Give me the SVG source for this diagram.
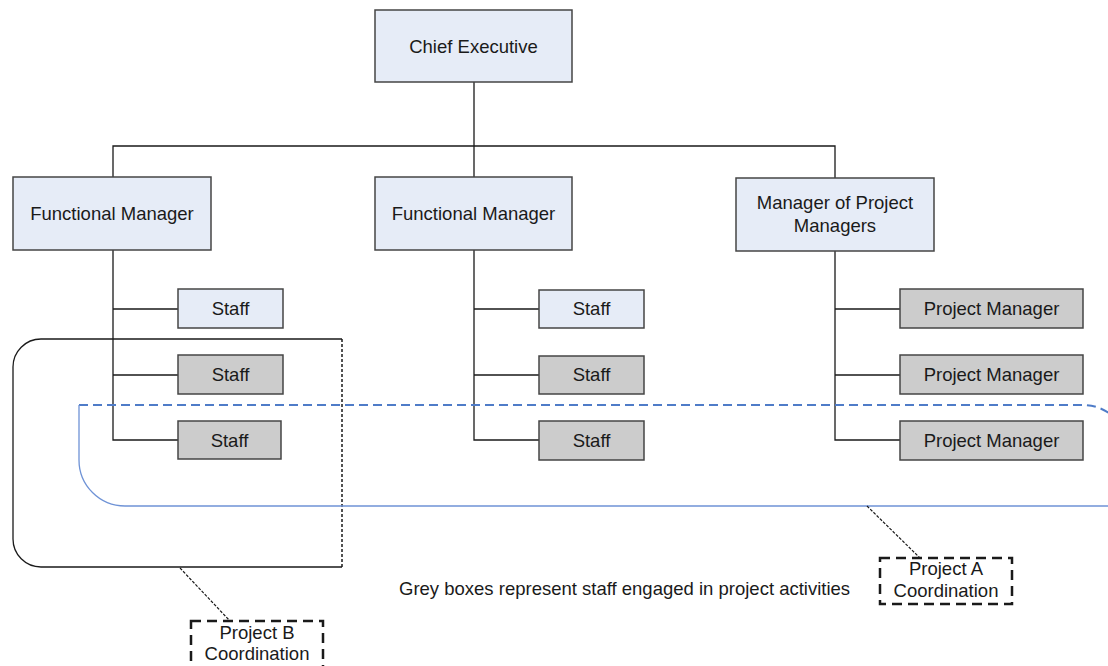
<svg xmlns="http://www.w3.org/2000/svg" width="1108" height="666" viewBox="0 0 1108 666">
  <style>
    text { font-family: "Liberation Sans", Arial, sans-serif; font-size: 18.5px; fill: #1a1a1a; text-anchor: middle; }
    .plain { fill: #e6ecf7; stroke: #454545; stroke-width: 1.5; }
    .grey { fill: #cccccc; stroke: #454545; stroke-width: 1.5; }
    .link { fill: none; stroke: #1a1a1a; stroke-width: 1.3; }
    .bsolid { fill: none; stroke: #1a1a1a; stroke-width: 1.3; }
    .bdash { fill: none; stroke: #1a1a1a; stroke-width: 1.5; stroke-dasharray: 3 2; }
    .asolid { fill: none; stroke: #6f93d6; stroke-width: 1.3; }
    .adash { fill: none; stroke: #4f7cc8; stroke-width: 2; stroke-dasharray: 9 5; }
    .leader { fill: none; stroke: #1a1a1a; stroke-width: 1.2; stroke-dasharray: 3 1.5; }
    .coord { fill: #ffffff; stroke: #1a1a1a; stroke-width: 2.5; stroke-dasharray: 10 6; }
    .caption { text-anchor: start; }
  </style>

  <!-- reporting lines -->
  <g id="connectors">
    <path class="link" d="M474,82 V146 M113,177 V146 H835 V178 M474,146 V177"/>
    <path class="link" d="M113,250 V440 H178 M113,309 H178 M113,375 H178"/>
    <path class="link" d="M474,250 V440 H539 M474,309 H539 M474,375 H539"/>
    <path class="link" d="M835,251 V440 H900 M835,309 H900 M835,375 H900"/>
  </g>

  <!-- project B boundary -->
  <g id="project-b-boundary">
    <path class="bsolid" d="M342,339 H41 A28,28 0 0 0 13,367 V539 A28,28 0 0 0 41,567 H342"/>
    <path class="bdash" d="M342,339 V567"/>
  </g>

  <!-- project A boundary -->
  <g id="project-a-boundary">
    <path class="adash" d="M79,405 H1083 A46,46 0 0 1 1129,451"/>
    <path class="asolid" d="M79,405 V460 A46,46 0 0 0 125,506 H1108"/>
  </g>

  <g id="chief-executive">
    <rect class="plain" x="375" y="10" width="197" height="72"/>
    <text x="473.5" y="53">Chief Executive</text>
  </g>

  <g id="functional-manager-1">
    <rect class="plain" x="13" y="177" width="198" height="73"/>
    <text x="112" y="220">Functional Manager</text>
  </g>
  <g id="functional-manager-2">
    <rect class="plain" x="375" y="177" width="197" height="73"/>
    <text x="473.5" y="220">Functional Manager</text>
  </g>
  <g id="manager-of-project-managers">
    <rect class="plain" x="736" y="178" width="198" height="73"/>
    <text x="835" y="209">Manager of Project</text>
    <text x="835" y="232">Managers</text>
  </g>

  <g id="staff-1a">
    <rect class="plain" x="178" y="289" width="105" height="39"/>
    <text x="230.5" y="315">Staff</text>
  </g>
  <g id="staff-1b">
    <rect class="grey" x="178" y="355" width="105" height="39"/>
    <text x="230.5" y="381">Staff</text>
  </g>
  <g id="staff-1c">
    <rect class="grey" x="178" y="421" width="103" height="38"/>
    <text x="229.5" y="447">Staff</text>
  </g>

  <g id="staff-2a">
    <rect class="plain" x="539" y="290" width="105" height="38"/>
    <text x="591.5" y="315">Staff</text>
  </g>
  <g id="staff-2b">
    <rect class="grey" x="539" y="356" width="105" height="38"/>
    <text x="591.5" y="381">Staff</text>
  </g>
  <g id="staff-2c">
    <rect class="grey" x="539" y="421" width="105" height="39"/>
    <text x="591.5" y="447">Staff</text>
  </g>

  <g id="project-manager-1">
    <rect class="grey" x="900" y="289" width="183" height="39"/>
    <text x="991.5" y="315">Project Manager</text>
  </g>
  <g id="project-manager-2">
    <rect class="grey" x="900" y="355" width="183" height="39"/>
    <text x="991.5" y="381">Project Manager</text>
  </g>
  <g id="project-manager-3">
    <rect class="grey" x="900" y="421" width="183" height="39"/>
    <text x="991.5" y="447">Project Manager</text>
  </g>

  <!-- callout leaders -->
  <g id="leaders">
    <path class="leader" d="M180,568 L230,621"/>
    <path class="leader" d="M867,506 L920,558"/>
  </g>

  <g id="project-b-coordination">
    <rect class="coord" x="191" y="621" width="132" height="48"/>
    <text x="257" y="639">Project B</text>
    <text x="257" y="660">Coordination</text>
  </g>

  <g id="project-a-coordination">
    <rect class="coord" x="880" y="558" width="132" height="46"/>
    <text x="946" y="575">Project A</text>
    <text x="946" y="597">Coordination</text>
  </g>

  <g id="caption">
    <text class="caption" x="399" y="595">Grey boxes represent staff engaged in project activities</text>
  </g>
</svg>
